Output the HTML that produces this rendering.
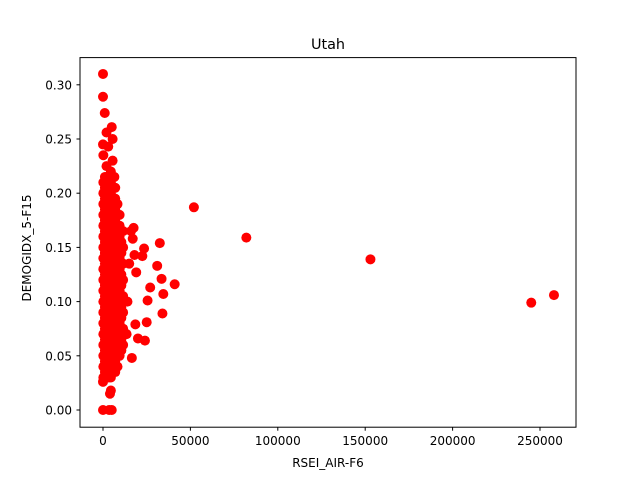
<!DOCTYPE html>
<html><head><meta charset="utf-8"><style>
body{margin:0;background:#fff}
text{font-family:"DejaVu Sans","Liberation Sans",sans-serif;fill:#000}
</style></head><body>
<svg id="chart" width="640" height="480" xmlns="http://www.w3.org/2000/svg">
<rect width="640" height="480" fill="#fff"/>
<text x="328" y="49" text-anchor="middle" font-size="14.4">Utah</text>
<g id="marks"></g>
<rect x="80" y="57.6" width="496" height="369.6" fill="none" stroke="#000" stroke-width="1"/>
<g id="xticks"></g>
<g id="yticks"></g>
<text x="328" y="467" text-anchor="middle" font-size="12">RSEI_AIR-F6</text>
<text transform="translate(31,248) rotate(-90)" text-anchor="middle" font-size="12">DEMOGIDX_5-F15</text>
</svg>
<script>
const xTicks=[0,50000,100000,150000,200000,250000];
const yTicks=[0,0.05,0.10,0.15,0.20,0.25,0.30];
const yTickLabels=["0.00","0.05","0.10","0.15","0.20","0.25","0.30"];
const points=[
[52000,0.187],[82000,0.159],[153000,0.139],[245000,0.099],[258000,0.106],
[41000,0.116],[34000,0.089],[34500,0.107],[33500,0.121],[32500,0.154],[31000,0.133],
[27000,0.113],[25500,0.101],[25000,0.081],[24000,0.064],[23500,0.149],[22500,0.142],
[20000,0.066],[19000,0.127],[18500,0.079],[18000,0.143],[17500,0.168],[17000,0.158],
[16500,0.048],[16000,0.165],[15000,0.135],[14000,0.10],[13500,0.07],
[0,0.31],[0,0.289],[1000,0.274],[2000,0.256],[5000,0.261],[5500,0.25],[0,0.245],[3000,0.243],
[0,0],[3500,0],[5000,0],[4000,0.015],[4500,0.018],[0,0.026],[6500,0.215],[5500,0.23],
[200,0.03],[200,0.04],[200,0.05],[200,0.06],[200,0.07],[200,0.08],[200,0.09],[200,0.10],[200,0.11],[200,0.12],[200,0.13],[200,0.14],[200,0.15],[200,0.16],[200,0.17],[200,0.18],[200,0.19],[200,0.20],[200,0.21],[200,0.235],
[1100,0.035],[1100,0.045],[1100,0.055],[1100,0.065],[1100,0.075],[1100,0.085],[1100,0.095],[1100,0.105],[1100,0.115],[1100,0.125],[1100,0.135],[1100,0.145],[1100,0.155],[1100,0.165],[1100,0.175],[1100,0.185],[1100,0.195],[1100,0.205],[1100,0.215],
[2000,0.035],[2000,0.045],[2000,0.055],[2000,0.065],[2000,0.075],[2000,0.085],[2000,0.095],[2000,0.105],[2000,0.115],[2000,0.125],[2000,0.135],[2000,0.145],[2000,0.155],[2000,0.165],[2000,0.175],[2000,0.185],[2000,0.195],[2000,0.205],[2000,0.215],[2000,0.225],
[3300,0.03],[3300,0.04],[3300,0.05],[3300,0.06],[3300,0.07],[3300,0.08],[3300,0.09],[3300,0.10],[3300,0.11],[3300,0.12],[3300,0.13],[3300,0.14],[3300,0.15],[3300,0.16],[3300,0.17],[3300,0.18],[3300,0.19],[3300,0.20],[3300,0.21],
[4500,0.03],[4500,0.04],[4500,0.05],[4500,0.06],[4500,0.07],[4500,0.08],[4500,0.09],[4500,0.10],[4500,0.11],[4500,0.12],[4500,0.13],[4500,0.14],[4500,0.15],[4500,0.16],[4500,0.17],[4500,0.18],[4500,0.19],[4500,0.20],[4500,0.21],[4500,0.22],
[5800,0.035],[5800,0.045],[5800,0.055],[5800,0.065],[5800,0.075],[5800,0.085],[5800,0.095],[5800,0.105],[5800,0.115],[5800,0.125],[5800,0.135],[5800,0.145],[5800,0.155],[5800,0.165],[5800,0.175],[5800,0.185],[5800,0.195],[5800,0.205],
[7000,0.035],[7000,0.045],[7000,0.055],[7000,0.065],[7000,0.075],[7000,0.085],[7000,0.095],[7000,0.105],[7000,0.115],[7000,0.125],[7000,0.135],[7000,0.145],[7000,0.155],[7000,0.165],[7000,0.175],[7000,0.185],[7000,0.195],[7000,0.205],
[8300,0.04],[8300,0.05],[8300,0.06],[8300,0.07],[8300,0.08],[8300,0.09],[8300,0.10],[8300,0.11],[8300,0.12],[8300,0.13],[8300,0.14],[8300,0.15],[8300,0.16],[8300,0.17],[8300,0.18],[8300,0.19],
[9500,0.05],[9500,0.06],[9500,0.07],[9500,0.08],[9500,0.09],[9500,0.10],[9500,0.11],[9500,0.12],[9500,0.13],[9500,0.14],[9500,0.15],[9500,0.16],[9500,0.17],[9500,0.18],
[10500,0.055],[10500,0.065],[10500,0.075],[10500,0.085],[10500,0.095],[10500,0.105],[10500,0.115],[10500,0.125],[10500,0.135],[10500,0.145],[10500,0.155],[10500,0.165],
[11500,0.06],[11500,0.075],[11500,0.09],[11500,0.105],[11500,0.12],[11500,0.135],[11500,0.15],[11500,0.165]
];
const NS="http://www.w3.org/2000/svg";
const xS=v=>103+v*(437/250000);
const yS=v=>410-v/0.05*54.2;
const marks=document.getElementById('marks');
points.forEach(p=>{const c=document.createElementNS(NS,'circle');
c.setAttribute('cx',xS(p[0]));c.setAttribute('cy',yS(p[1]));c.setAttribute('r',5);c.setAttribute('fill','#ff0000');


marks.appendChild(c);});
const xg=document.getElementById('xticks');
xTicks.forEach(t=>{const x=xS(t);
const l=document.createElementNS(NS,'line');l.setAttribute('x1',x);l.setAttribute('x2',x);l.setAttribute('y1',427.2);l.setAttribute('y2',430.7);l.setAttribute('stroke','#000');


xg.appendChild(l);
const tx=document.createElementNS(NS,'text');tx.setAttribute('x',x);tx.setAttribute('y',445);tx.setAttribute('text-anchor','middle');tx.setAttribute('font-size','12');tx.textContent=String(t);


xg.appendChild(tx);});
const yg=document.getElementById('yticks');
yTicks.forEach((t,i)=>{const y=yS(t);
const l=document.createElementNS(NS,'line');l.setAttribute('x1',76.5);l.setAttribute('x2',80);l.setAttribute('y1',y);l.setAttribute('y2',y);l.setAttribute('stroke','#000');


yg.appendChild(l);
const tx=document.createElementNS(NS,'text');tx.setAttribute('x',72);tx.setAttribute('y',y+4.5);tx.setAttribute('text-anchor','end');tx.setAttribute('font-size','12');tx.textContent=yTickLabels[i];


yg.appendChild(tx);});
</script>
</body></html>
